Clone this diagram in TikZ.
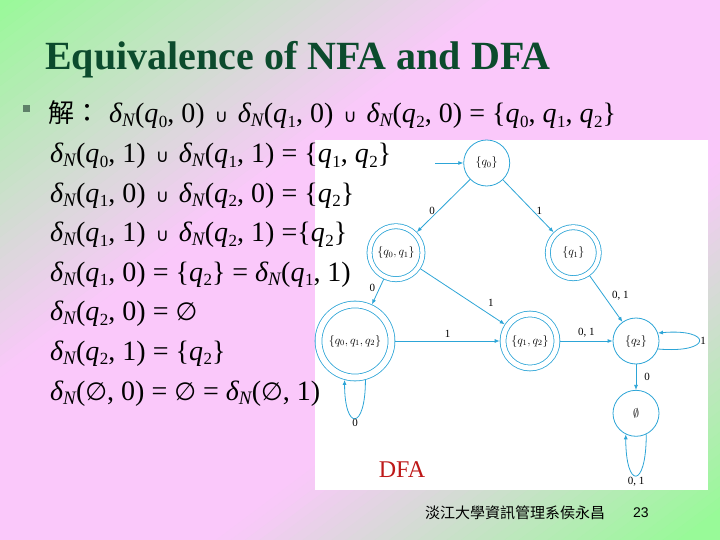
\documentclass[tikz,border=0pt]{standalone}
\usepackage{fontspec}
\setmainfont{Liberation Serif}
\newfontfamily\cjk{Noto Sans CJK TC}
\newfontfamily\symf{DejaVu Sans}
\newfontfamily\sansf{Liberation Sans}
\usetikzlibrary{arrows.meta}
\definecolor{bggreen}{RGB}{152,250,152}
\definecolor{bgpink}{RGB}{250,200,250}
\definecolor{titlecol}{RGB}{12,75,45}
\definecolor{edgecol}{RGB}{45,165,215}
\definecolor{dfared}{RGB}{190,25,25}
\definecolor{bulletcol}{RGB}{95,128,105}
\newcommand{\dN}{\textit{δ}\kern-0.5pt\raisebox{-4pt}{\fontsize{19}{19}\selectfont\textit{N}}\kern-0.5pt}
\newcommand{\qs}[1]{\textit{q}\kern0.5pt\raisebox{-4.5pt}{\fontsize{17}{17}\selectfont #1}}
\newcommand{\cupx}{\hspace{3pt}{\symf\fontsize{18}{18}\selectfont ∪}\hspace{3pt}}
\newcommand{\emp}{{\symf\fontsize{25}{25}\selectfont ∅}}
\begin{document}
\begin{tikzpicture}[x=1pt,y=1pt,
  st/.style={circle,draw=edgecol,line width=0.8pt,inner sep=0pt,minimum size=#1,font=\fontsize{12}{12}\selectfont},
  acc/.style={double=white,double distance=#1,outer sep=#1/2+0.8pt},
  edge/.style={draw=edgecol,line width=0.8pt,-{Latex[length=5pt,width=4pt]}},
  lab/.style={font=\fontsize{11}{11}\selectfont,inner sep=1pt,text=black},
  body/.style={anchor=base west,inner sep=0pt,font=\fontsize{28}{34}\selectfont}]
\useasboundingbox (0,0) rectangle (720,-540);
% background gradient
\begin{scope}
\clip (0,0) rectangle (720,-540);
\foreach \i in {0,...,99}{
  \pgfmathsetmacro{\sa}{\i*0.02}
  \pgfmathsetmacro{\sb}{\sa+0.025}
  \pgfmathsetmacro{\sm}{\sa+0.01}
  \pgfmathsetmacro{\p}{max(0,min(100,\sm/0.7*100,(1.95-\sm)/0.65*100))}
  \fill[bgpink!\p!bggreen] ({\sa*720},0) -- ({\sb*720},0) -- (0,{-\sb*540}) -- (0,{-\sa*540}) -- cycle;
}
\end{scope}
% white panel
\node[fill=white,minimum width=393pt,minimum height=350pt,inner sep=0pt,anchor=north west] (panel) at (315,-140) {};
% title
\node[anchor=base west,inner sep=0pt,text=titlecol,font=\fontsize{40}{48}\selectfont\bfseries] (title) at (45,-70) {Equivalence of NFA and DFA};
% bullet
\node[fill=bulletcol,minimum size=7pt,inner sep=0pt] (bullet) at (26.5,-108.5) {};
% body lines
\node[body] (l1) at (48,-123) {{\cjk\fontsize{26}{26}\selectfont 解：}\hspace{9pt}\dN(\qs{0}, 0) \cupx{} \dN(\qs{1}, 0) \cupx{} \dN(\qs{2}, 0) = \{\qs{0}, \qs{1}, \qs{2}\}};
\node[body] (l2) at (50,-162.6) {\dN(\qs{0}, 1) \cupx{} \dN(\qs{1}, 1) = \{\qs{1}, \qs{2}\}};
\node[body] (l3) at (50,-202.1) {\dN(\qs{1}, 0) \cupx{} \dN(\qs{2}, 0) = \{\qs{2}\}};
\node[body] (l4) at (50,-241.7) {\dN(\qs{1}, 1) \cupx{} \dN(\qs{2}, 1) =\{\qs{2}\}};
\node[body] (l5) at (50,-281.3) {\dN(\qs{1}, 0) = \{\qs{2}\} = \dN(\qs{1}, 1)};
\node[body] (l6) at (50,-320.9) {\dN(\qs{2}, 0) = \emp};
\node[body] (l7) at (50,-360.4) {\dN(\qs{2}, 1) = \{\qs{2}\}};
\node[body] (l8) at (50,-400) {\dN(\emp, 0) = \emp{} = \dN(\emp, 1)};
% DFA states
\node[st=46pt] (q0) at (486.7,-163) {$\{q_0\}$};
\node[st=53pt,acc=4.2pt] (q01) at (396,-252.7) {$\{q_0,q_1\}$};
\node[st=51pt,acc=4.2pt] (q1) at (573.3,-252.7) {$\{q_1\}$};
\node[st=73pt,acc=6pt] (q012) at (355,-341) {$\{q_0,q_1,q_2\}$};
\node[st=54pt,acc=5pt] (q12) at (530,-341) {$\{q_1,q_2\}$};
\node[st=46pt] (q2) at (636,-341) {$\{q_2\}$};
\node[st=46pt] (e) at (636,-413.3) {$\emptyset$};
\coordinate (start) at (435,-163);
% transitions
\draw[edge] (start) -- (q0);
\draw[edge] (q0) -- node[lab,pos=0.6,left=2pt] {0} (q01);
\draw[edge] (q0) -- node[lab,pos=0.6,right=2pt] {1} (q1);
\draw[edge] (q01) -- node[lab,pos=0.35,left=3pt] {0} (q012);
\draw[edge] (q01) -- node[lab,pos=0.75,above right=3pt] {1} (q12);
\draw[edge] (q1) -- node[lab,pos=0.43,right=7pt] {0, 1} (q2);
\draw[edge] (q012) -- node[lab,above=2pt] {1} (q12);
\draw[edge] (q12) -- node[lab,above=2pt] {0, 1} (q2);
\draw[edge] (q2) -- node[lab,right=7pt] {0} (e);
\draw[edge] (q2.-20) to[out=-5,in=5,distance=55pt] node[lab,right=0pt] {1} (q2.20);
\draw[edge] (e.-64) to[out=-90,in=-90,distance=55pt] node[lab,below=0pt] {0, 1} (e.-116);
\draw[edge] (q012.-75) to[out=-90,in=-90,distance=51pt] node[lab,below=0pt] {0} (q012.-105);
% DFA caption
\node[text=dfared,font=\fontsize{24}{24}\selectfont,inner sep=0pt] (cap) at (402,-470) {DFA};
% footer
\node[anchor=west,inner sep=0pt,font=\cjk\fontsize{15}{15}\selectfont] (foot) at (425,-513) {淡江大學資訊管理系侯永昌};
\node[anchor=west,inner sep=0pt,font=\sansf\fontsize{14}{14}\selectfont] (page) at (633,-513) {23};
\end{tikzpicture}
\end{document}
